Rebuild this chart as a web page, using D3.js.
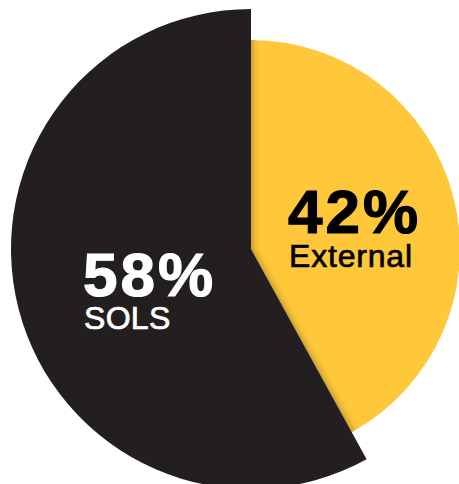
<!DOCTYPE html>
<html>
<head>
<meta charset="utf-8">
<script src="https://cdn.jsdelivr.net/npm/d3@7"></script>
<style>
  html, body { margin: 0; padding: 0; background: #fff; }
  svg { display: block; }
  text { font-family: "Liberation Sans", Arial, Helvetica, sans-serif; }
</style>
</head>
<body>
<div class="chart"></div>
<script>
/*global d3*/

const labels = ["External", "SOLS"],
      values = [42, 58],
      colors = ["#FEC83A", "#231F20"],
      textColors = ["#000000", "#FFFFFF"];

const width = 459,
      height = 484,
      cx = 251,
      cy = 249,
      rSmall = 209,
      rBig = 240;

const data = labels.map((d, i) => ({label: d, value: values[i], color: colors[i], textColor: textColors[i]}));

const svg = d3.select(".chart").append("svg")
      .attr("width", width)
      .attr("height", height);

const defs = svg.append("defs");

const pie = d3.pie()
      .sort(null)
      .value(d => d.value);

const arcs = pie(data);

// the bigger (SOLS) slice pops out with a larger radius
const radius = d => d.data.label === "SOLS" ? rBig : rSmall;
const arc = d3.arc().innerRadius(0).outerRadius(d => radius(d));

const g = svg.append("g")
      .attr("transform", "translate(" + cx + "," + cy + ")");

defs.append("clipPath")
    .attr("id", "clip-ext")
    .append("path")
    .attr("d", arc(arcs[0]));

defs.append("filter")
    .attr("id", "blur")
    .attr("x", "-20%").attr("y", "-20%")
    .attr("width", "140%").attr("height", "140%")
    .append("feGaussianBlur")
    .attr("stdDeviation", 4.5);

g.selectAll("path.slice")
    .data(arcs)
    .enter().append("path")
    .attr("class", "slice")
    .attr("d", arc)
    .attr("fill", d => d.data.color);

// soft shadow of the dark slice falling on the yellow one
g.insert("g", "path.slice:nth-of-type(2)")
    .attr("clip-path", "url(#clip-ext)")
    .append("path")
    .attr("d", arc(arcs[1]))
    .attr("fill", "#000")
    .attr("opacity", 0.4)
    .attr("filter", "url(#blur)");

const labelPos = [[289, 233], [84, 296]];

// one text per slice: big percentage, name on the line below
const label = svg.append("g")
      .selectAll("text")
      .data(arcs)
      .enter().append("text")
      .attr("transform", (d, i) => "translate(" + labelPos[i][0] + "," + labelPos[i][1] + ")")
      .attr("fill", d => d.data.textColor)
      .attr("stroke", d => d.data.textColor);

label.append("tspan")
    .attr("x", -1)
    .attr("y", 0)
    .attr("stroke-width", 1.2)
    .style("font-weight", "bold")
    .style("font-size", "62px")
    .style("letter-spacing", "3px")
    .text(d => d.data.value + "%");

label.append("tspan")
    .attr("x", 0)
    .attr("y", d => d.data.label === "SOLS" ? 33 : 34)
    .attr("stroke-width", 0.7)
    .style("font-size", "32px")
    .style("letter-spacing", d => d.data.label === "SOLS" ? "0.3px" : "0.8px")
    .text(d => d.data.label);
</script>
</body>
</html>
